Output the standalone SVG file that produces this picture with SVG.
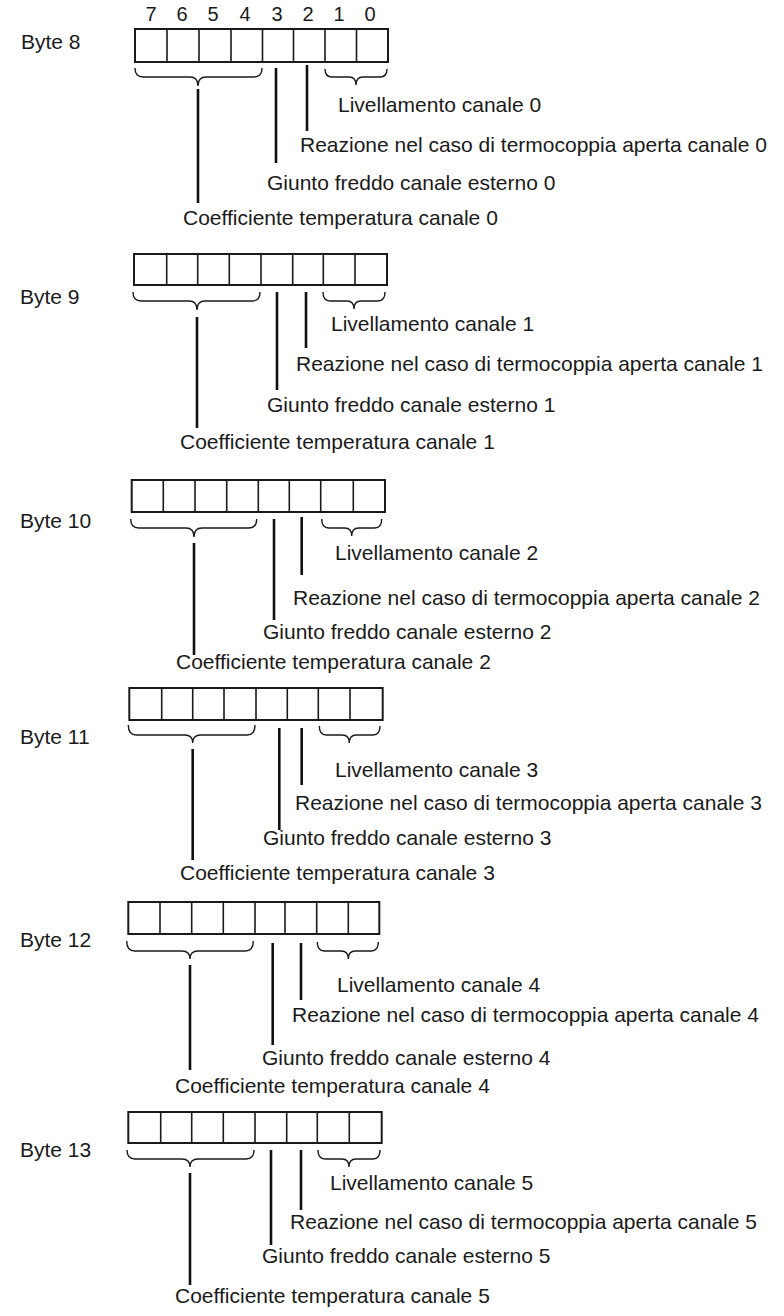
<svg xmlns="http://www.w3.org/2000/svg" width="784" height="1316" viewBox="0 0 784 1316">
<style>
text{font-family:"Liberation Sans",Arial,sans-serif;fill:#1a1a1a;font-size:21px}
.d{font-size:20px;text-anchor:middle}
.box{fill:#fff;stroke:#1a1a1a;stroke-width:2}
.cell{stroke:#1a1a1a;stroke-width:1.6}
.br{fill:none;stroke:#1a1a1a;stroke-width:1.4}
.ln{stroke:#111;stroke-width:2.6}
</style>
<rect width="784" height="1316" fill="#fff"/>

<g id="byte8">
<text x="21" y="49">Byte 8</text>
<g class="d-row">
<text class="d" x="151" y="21">7</text><text class="d" x="182" y="21">6</text><text class="d" x="213" y="21">5</text><text class="d" x="245" y="21">4</text><text class="d" x="277" y="21">3</text><text class="d" x="308" y="21">2</text><text class="d" x="339" y="21">1</text><text class="d" x="370" y="21">0</text>
</g>
<rect class="box" x="135" y="29" width="253" height="33"/>
<path class="cell" d="M167,29V62M199,29V62M231,29V62M262.5,29V62M293.5,29V62M325,29V62M356.5,29V62"/>
</g>

<g id="byte9">
<text x="20" y="304">Byte 9</text>
<rect class="box" x="134" y="254" width="253" height="31"/>
<path class="cell" d="M166.7,254V285M197.7,254V285M229.3,254V285M261,254V285M292.7,254V285M323.3,254V285M355,254V285"/>
</g>

<g id="byte10">
<text x="20" y="528">Byte 10</text>
<rect class="box" x="131.7" y="480" width="253.3" height="32"/>
<path class="cell" d="M163.3,480V512M195,480V512M226.7,480V512M258.3,480V512M289.3,480V512M320.7,480V512M353.3,480V512"/>
</g>

<g id="byte11">
<text x="20" y="744">Byte 11</text>
<rect class="box" x="129.3" y="688" width="253.4" height="32"/>
<path class="cell" d="M161.7,688V720M192.7,688V720M224,688V720M256,688V720M287.3,688V720M318.3,688V720M350,688V720"/>
</g>

<g id="byte12">
<text x="20" y="947">Byte 12</text>
<rect class="box" x="128.3" y="902" width="251" height="32"/>
<path class="cell" d="M160,902V934M191.7,902V934M223.3,902V934M255,902V934M285,902V934M316.7,902V934M348.3,902V934"/>
</g>

<g id="byte13">
<text x="20" y="1157">Byte 13</text>
<rect class="box" x="128.3" y="1112" width="253.4" height="31"/>
<path class="cell" d="M160.7,1112V1143M191.7,1112V1143M223.3,1112V1143M255,1112V1143M286.7,1112V1143M317.3,1112V1143M349.3,1112V1143"/>
</g>

<g id="labels">
<text x="338" y="112">Livellamento canale 0</text>
<text x="300" y="152">Reazione nel caso di termocoppia aperta canale 0</text>
<text x="267" y="190">Giunto freddo canale esterno 0</text>
<text x="183" y="225">Coefficiente temperatura canale 0</text>

<text x="331" y="331">Livellamento canale 1</text>
<text x="296" y="371">Reazione nel caso di termocoppia aperta canale 1</text>
<text x="267" y="412">Giunto freddo canale esterno 1</text>
<text x="180" y="449">Coefficiente temperatura canale 1</text>

<text x="335" y="560">Livellamento canale 2</text>
<text x="293" y="605">Reazione nel caso di termocoppia aperta canale 2</text>
<text x="263" y="639">Giunto freddo canale esterno 2</text>
<text x="176" y="669">Coefficiente temperatura canale 2</text>

<text x="335" y="777">Livellamento canale 3</text>
<text x="295" y="810">Reazione nel caso di termocoppia aperta canale 3</text>
<text x="263" y="845">Giunto freddo canale esterno 3</text>
<text x="180" y="880">Coefficiente temperatura canale 3</text>

<text x="337" y="992">Livellamento canale 4</text>
<text x="292" y="1022">Reazione nel caso di termocoppia aperta canale 4</text>
<text x="262" y="1065">Giunto freddo canale esterno 4</text>
<text x="175" y="1093">Coefficiente temperatura canale 4</text>

<text x="330" y="1190">Livellamento canale 5</text>
<text x="290" y="1229">Reazione nel caso di termocoppia aperta canale 5</text>
<text x="262" y="1263">Giunto freddo canale esterno 5</text>
<text x="175" y="1303">Coefficiente temperatura canale 5</text>
</g>

<g id="connectors">
<path class="br" d="M135,68Q135,77 143,77H190Q198,77 198,86Q198,77 206,77H254Q262,77 262,68"/>
<path class="br" d="M325,69Q325,77 332,77H349Q356,77 356,85Q356,77 363,77H380Q387,77 387,69"/>
<path class="ln" d="M198,89V203M276,68V163M307,65V131"/>

<path class="br" d="M133,292Q133,301 141,301H189Q197,301 197,310Q197,301 205,301H252Q260,301 260,292"/>
<path class="br" d="M323,292Q323,301 330,301H347Q354,301 354,309Q354,301 361,301H378Q385,301 385,292"/>
<path class="ln" d="M197,317V428M277,292V390M306,292V348"/>

<path class="br" d="M130.7,519Q130.7,528 138.7,528H186Q194,528 194,537Q194,528 202,528H248.7Q256.7,528 256.7,519"/>
<path class="br" d="M321.7,519Q321.7,528 328.7,528H344.7Q351.7,528 351.7,536Q351.7,528 358.7,528H374.7Q381.7,528 381.7,519"/>
<path class="ln" d="M194,543V655M274,519V620M301.7,517V575"/>

<path class="br" d="M128.3,725Q128.3,735 136.3,735H184.7Q192.7,735 192.7,743Q192.7,735 200.7,735H247Q255,735 255,725"/>
<path class="br" d="M319.3,726Q319.3,735 326.3,735H342.3Q349.3,735 349.3,743Q349.3,735 356.3,735H373Q380,735 380,726"/>
<path class="ln" d="M192.7,749V860M279.3,728V830M301.7,728V785"/>

<path class="br" d="M126.7,941Q126.7,951 134.7,951H182Q190,951 190,959Q190,951 198,951H245.3Q253.3,951 253.3,941"/>
<path class="br" d="M317.3,942Q317.3,951 324.3,951H341.3Q348.3,951 348.3,959Q348.3,951 355.3,951H371.3Q378.3,951 378.3,942"/>
<path class="ln" d="M190,965V1070M272.7,943V1045M301,943V1000"/>

<path class="br" d="M127,1150Q127,1159 135,1159H182Q190,1159 190,1167Q190,1159 198,1159H246Q254,1159 254,1150"/>
<path class="br" d="M318,1150Q318,1159 325,1159H342Q349,1159 349,1167Q349,1159 356,1159H373Q380,1159 380,1150"/>
<path class="ln" d="M190,1173V1285M271,1150V1245M301,1150V1210"/>
</g>
</svg>
